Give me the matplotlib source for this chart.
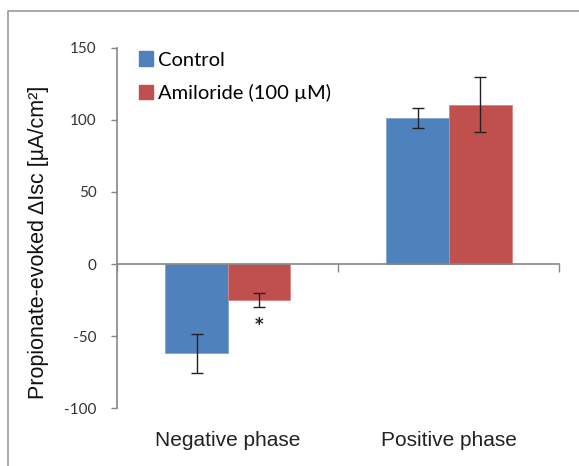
import matplotlib
matplotlib.use("Agg")
import matplotlib.pyplot as plt
import matplotlib.patches as mpatches
import numpy as np

phases = ["Negative phase", "Positive phase"]
control = [-62, 101]
control_err = [13.5, 7]
amiloride = [-25, 110.5]
amiloride_err = [5, 19]
series_names = ["Control", "Amiloride (100 \u00b5M)"]
sig_marks = [(0, "*", -42)]  # (phase index, mark, y) for amiloride bars

blue = "#4F81BD"
red = "#C0504D"
axis_grey = "#868686"

plt.rcParams["axes.unicode_minus"] = False

fig = plt.figure(figsize=(5.79, 4.66), dpi=100)
ax = fig.add_axes([0.2028, 0.1238, 0.7635, 0.7738])

x = np.arange(len(phases))
w = 0.283
ax.bar(x - w / 2, control, w, color=blue, edgecolor="#7FA4D4", linewidth=0.6, zorder=2)
ax.bar(x + w / 2, amiloride, w, color=red, edgecolor="#D98583", linewidth=0.6, zorder=2)
ax.errorbar(x - w / 2, control, yerr=control_err, fmt="none", ecolor="#222222",
            elinewidth=1, capsize=4, capthick=1, zorder=3)
ax.errorbar(x + w / 2, amiloride, yerr=amiloride_err, fmt="none", ecolor="#222222",
            elinewidth=1, capsize=4, capthick=1, zorder=3)

for i, mark, y in sig_marks:
    ax.text(x[i] + w / 2, y, mark, ha="center", va="center", fontsize=12,
            fontweight="bold", family="DejaVu Sans", color="#222222")

ax.set_xlim(-0.5, 1.5)
ax.set_ylim(-100, 150)
ax.set_yticks([-100, -50, 0, 50, 100, 150])
ax.set_xticks([-0.5, 0.5, 1.5])
ax.set_xticklabels([])

for s in ["top", "right"]:
    ax.spines[s].set_visible(False)
ax.spines["bottom"].set_position(("data", 0))
ax.spines["bottom"].set_zorder(4)
for s in ["left", "bottom"]:
    ax.spines[s].set_color(axis_grey)
    ax.spines[s].set_linewidth(1.2)

ax.tick_params(axis="y", direction="out", length=4, width=1, color=axis_grey,
               labelsize=11, labelcolor="#333333", pad=11)
ax.tick_params(axis="x", direction="out", length=6, width=1, color=axis_grey)
for t in ax.get_yticklabels():
    t.set_family("Lato")

# category names sit below the plot area, not at the zero line
for i, name in enumerate(phases):
    ax.text(x[i], -122.5, name, ha="center", va="center", fontsize=15,
            family="Liberation Sans", color="#222222", clip_on=False)

handles = [mpatches.Patch(color=blue), mpatches.Patch(color=red)]
leg = ax.legend(handles, series_names, loc="upper left", bbox_to_anchor=(0.007, 1.04),
                frameon=False, handlelength=0.7, handleheight=0.7, handletextpad=0.25,
                labelspacing=0.75, prop={"family": "Lato", "size": 14.5})

fig.text(0.067, 0.48, "Propionate-evoked \u0394Isc [\u00b5A/cm\u00b2]", rotation=90,
         ha="center", va="center", fontsize=15.5, family="Liberation Sans", color="#111111")

# outer frame, open to the right and bottom
fig.add_artist(plt.Line2D([8 / 579, 8 / 579, 1.0], [0.0, 1 - 11 / 466, 1 - 11 / 466],
                          transform=fig.transFigure, color="#9a9a9a", linewidth=1.2))

fig.savefig("out.png", dpi=100)
